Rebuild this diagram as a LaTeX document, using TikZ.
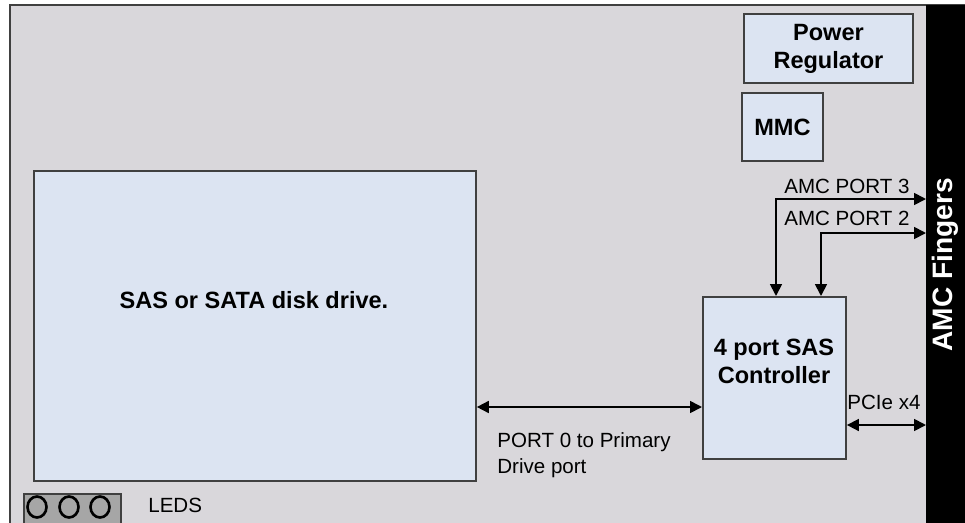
\documentclass[tikz,border=0pt]{standalone}
\usepackage{fontspec}
\setmainfont{Liberation Sans}
\usepackage{xcolor}
\usepackage{tikz}
\usetikzlibrary{arrows.meta,positioning,calc}
\definecolor{boardgray}{HTML}{D9D7DB}
\definecolor{chipblue}{HTML}{DCE4F2}
\definecolor{edgegray}{HTML}{404040}
\definecolor{ledgray}{HTML}{A6A6A6}

\begin{document}
\begin{tikzpicture}[x=0.02cm, y=-0.02cm,
  box/.style={draw=edgegray, line width=1.1pt, fill=chipblue, anchor=north west, inner sep=0pt},
  lbl/.style={font=\fontsize{11.7}{14}\selectfont, inner sep=0pt},
  title/.style={font=\fontsize{13.4}{16}\selectfont\bfseries, align=center, inner sep=0pt},
  link/.style={line width=1pt, {Triangle[length=0.24cm,width=0.24cm]}-{Triangle[length=0.24cm,width=0.24cm]}},
  ]
  \useasboundingbox (0,0) rectangle (965,522);
  % board
  \filldraw[fill=boardgray, draw=edgegray, line width=1.4pt] (10,5) rectangle (975,540);
  \node[fill=black, minimum width=10.4cm, minimum height=0.78cm, rotate=90, text=white,
        font=\fontsize{16}{18}\selectfont\bfseries] (fingers) at (945.5,265) {AMC Fingers};

  % blocks
  \node[box, minimum width=8.84cm, minimum height=6.2cm] (disk) at (33,170) {};
  \node[title] (disktxt) at (254,300) {SAS or SATA disk drive.};
  \node[box, minimum width=3.38cm, minimum height=1.38cm, title] (power) at (743,13) {Power\\Regulator};
  \node[box, minimum width=1.62cm, minimum height=1.36cm, title] (mmc) at (741,92) {MMC};
  \node[box, minimum width=2.86cm, minimum height=3.24cm] (ctrl) at (702,296) {};
  \node[title] (ctrltxt) at (774,361) {4 port SAS\\Controller};

  % finger ends
  \coordinate (f3) at (926,199);
  \coordinate (f2) at (926,233);
  \coordinate (fp) at (926,425);

  % links
  \draw[link] (f3) -| ($(ctrl.north west)+(74,0)$);
  \draw[link] (f2) -| ($(ctrl.north west)+(119,0)$);
  \draw[link] (disk.east |- 0,407) -- (ctrl.west |- 0,407);
  \draw[link] (ctrl.east |- fp) -- (fp);

  \node[lbl] (p3lbl) at (847,186) {AMC PORT 3};
  \node[lbl] (p2lbl) at (847,218) {AMC PORT 2};
  \node[lbl] (pcielbl) at (884,402) {PCIe x4};
  \node[lbl, align=left, anchor=north west] (p0lbl) at (497,432) {PORT 0 to Primary\\[1pt]Drive port};

  % leds
  \node[draw=edgegray, line width=1pt, fill=ledgray, minimum width=1.94cm, minimum height=0.6cm,
        anchor=north west, inner sep=0pt] (leds) at (23,493) {};
  \foreach \cx in {37,69,100}
    \draw[line width=1.5pt] (\cx,507) ellipse [x radius=0.19cm, y radius=0.21cm];
  \node[lbl, anchor=west] (ledlbl) at (148,505) {LEDS};
\end{tikzpicture}
\end{document}
